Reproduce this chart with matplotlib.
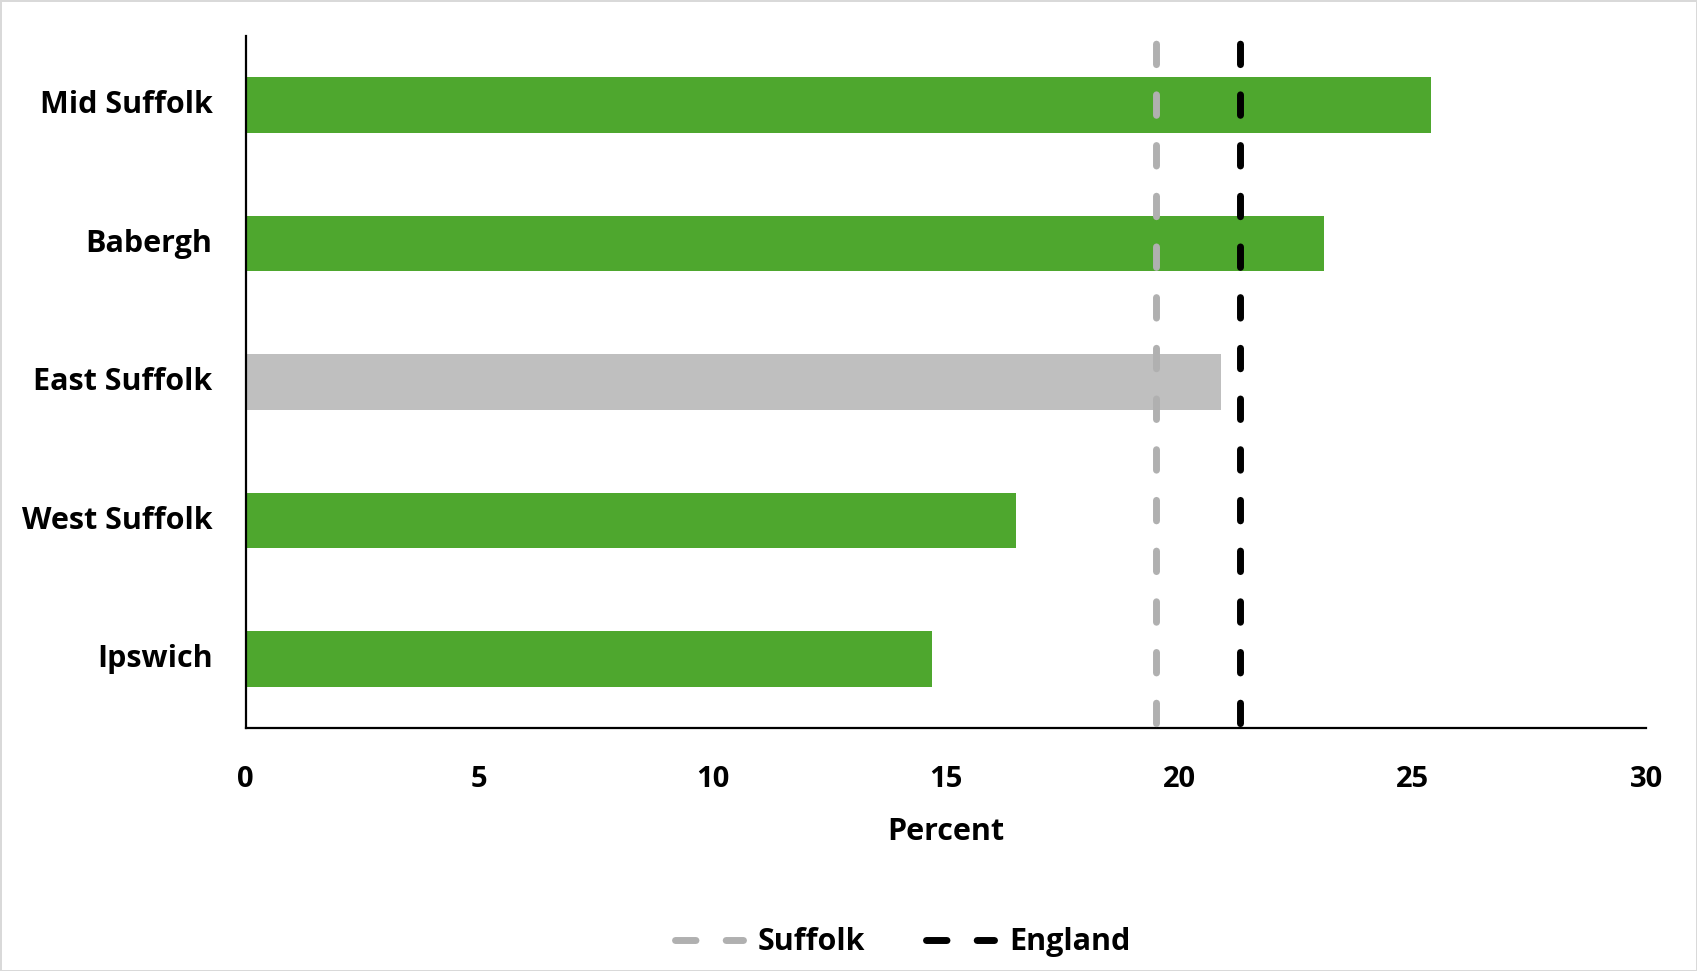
import matplotlib
matplotlib.use('agg')
import matplotlib.pyplot as plt
from matplotlib.lines import Line2D

# districts, bottom to top as drawn
districts = ['Ipswich', 'West Suffolk', 'East Suffolk', 'Babergh', 'Mid Suffolk']
percent = [14.7, 16.5, 20.9, 23.1, 25.4]
bar_colours = ['#4EA72E', '#4EA72E', '#BFBFBF', '#4EA72E', '#4EA72E']

suffolk_value = 19.5
england_value = 21.3

x_ticks = [0, 5, 10, 15, 20, 25, 30]

plt.rcParams['font.family'] = ['Open Sans', 'DejaVu Sans']
plt.rcParams['font.weight'] = 'bold'

fig = plt.figure(figsize=(16.97, 9.71), dpi=100)
fig.patch.set_edgecolor('#D9D9D9')
fig.patch.set_linewidth(2)
ax = fig.add_axes([0.1448, 0.2498, 0.8252, 0.7134])

ax.barh(range(len(districts)), percent, height=0.4, color=bar_colours, zorder=2)

# reference lines, drawn top to bottom so the dash pattern starts at the top
lw = 5
dash = (6.2, (2.95, 4.35))
ax.plot([suffolk_value, suffolk_value], [4.5, -0.5], color='#B0B0B0', lw=lw,
        linestyle=dash, dash_capstyle='round', zorder=3, clip_on=False)
ax.plot([england_value, england_value], [4.5, -0.5], color='black', lw=lw,
        linestyle=dash, dash_capstyle='round', zorder=3, clip_on=False)

ax.set_xlim(0, 30)
ax.set_ylim(-0.5, 4.5)
ax.set_xticks(x_ticks)
ax.set_xticklabels([str(t) for t in x_ticks])
ax.set_yticks(range(len(districts)))
ax.set_yticklabels(districts, va='center')

for side in ['top', 'right']:
    ax.spines[side].set_visible(False)
for side in ['left', 'bottom']:
    ax.spines[side].set_linewidth(1.6)
    ax.spines[side].set_color('black')

ax.tick_params(axis='x', length=0, pad=26, labelsize=21)
ax.tick_params(axis='y', length=0, pad=24, labelsize=22)
ax.set_xlabel('Percent', fontsize=22, fontweight='bold', labelpad=17)

handles = [
    Line2D([], [], color='#B0B0B0', lw=lw, linestyle=(0, (2.95, 4.35)), dash_capstyle='round'),
    Line2D([], [], color='black', lw=lw, linestyle=(0, (2.95, 4.35)), dash_capstyle='round'),
]
fig.legend(handles, ['Suffolk', 'England'], loc='center', bbox_to_anchor=(0.532, 0.0295),
           ncol=2, frameon=False, fontsize=22, handlelength=2.2, handletextpad=0.5,
           columnspacing=2.0)

fig.savefig('out.png', dpi=100, edgecolor=fig.get_edgecolor())
